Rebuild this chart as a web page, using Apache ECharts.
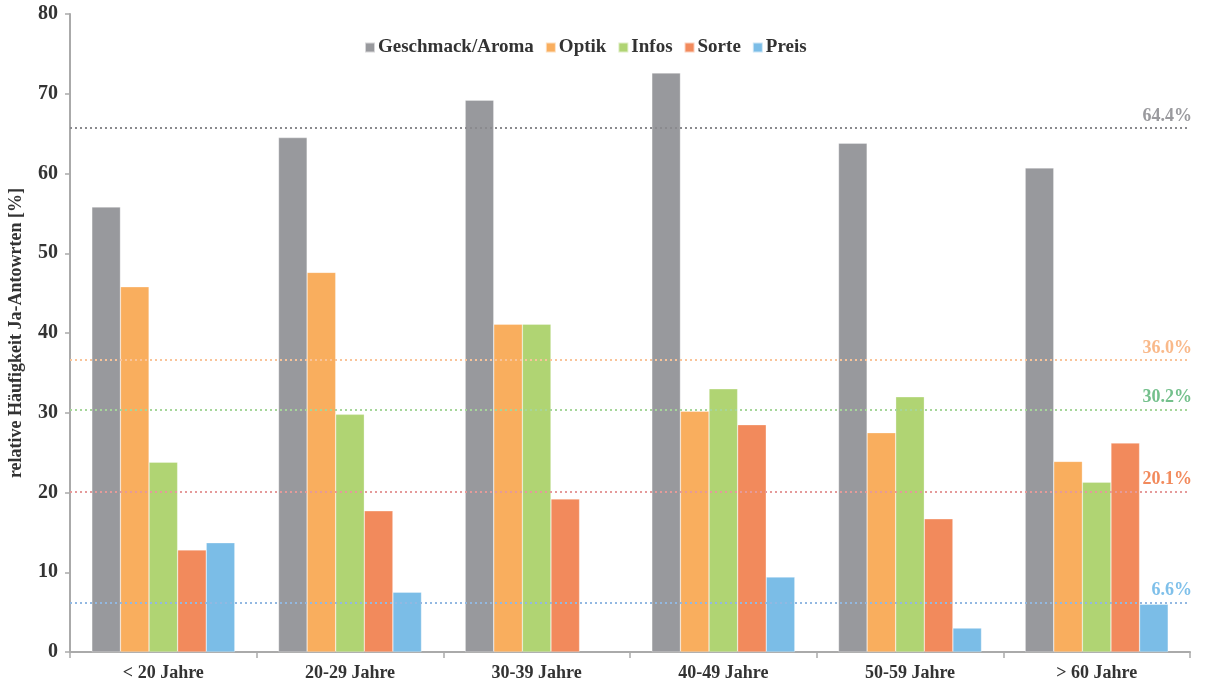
<!DOCTYPE html>
<html>
<head>
<meta charset="utf-8">
<script src="https://cdn.jsdelivr.net/npm/echarts@6/dist/echarts.min.js"></script>
<style>
html,body{margin:0;padding:0;background:#fff;}
#chart{width:1206px;height:684px;}
</style>
</head>
<body>
<div id="chart"></div>
<script>
var categories = ['< 20 Jahre', '20-29 Jahre', '30-39 Jahre', '40-49 Jahre', '50-59 Jahre', '> 60 Jahre'];
var seriesNames = ['Geschmack/Aroma', 'Optik', 'Infos', 'Sorte', 'Preis'];
var geschmack = [55.8, 64.5, 69.2, 72.6, 63.8, 60.7];
var optik = [45.8, 47.6, 41.1, 30.2, 27.5, 23.9];
var infos = [23.8, 29.8, 41.1, 33.0, 32.0, 21.3];
var sorte = [12.8, 17.7, 19.2, 28.5, 16.7, 26.2];
var preis = [13.7, 7.5, null, 9.4, 3.0, 6.0];
var lineLevels = [65.7, 36.6, 30.4, 20.1, 6.2];
var lineLabels = ['64.4%', '36.0%', '30.2%', '20.1%', '6.6%'];
var yTicks = [0, 10, 20, 30, 40, 50, 60, 70, 80];

var barColors = ['#98999d', '#f9ae5e', '#b0d473', '#f28a5c', '#7bbde7'];
var lineColors = ['#8a8a8e', '#f9c49a', '#a6d69a', '#e59a9a', '#92b8e2'];
var labelColors = ['#9a9a9e', '#f9b98a', '#74c08c', '#f28a5c', '#7fc0ea'];
var FONT = '"Liberation Serif", "DejaVu Serif", serif';

var dataSets = [geschmack, optik, infos, sorte, preis];
var series = seriesNames.map(function (name, i) {
  return {
    name: name,
    type: 'bar',
    data: dataSets[i],
    barGap: '0%',
    barCategoryGap: '23.4%',
    itemStyle: { color: barColors[i], borderColor: 'rgba(255,255,255,0.6)', borderWidth: 0.5 },
    markLine: {
      silent: true,
      symbol: 'none',
      data: [{ yAxis: lineLevels[i] }],
      lineStyle: { color: lineColors[i], type: [2, 3], width: 2 },
      label: {
        position: 'insideEndTop',
        formatter: lineLabels[i],
        color: labelColors[i],
        fontFamily: FONT,
        fontWeight: 'bold',
        fontSize: 18,
        distance: [-2, 3]
      }
    }
  };
});

var chart = echarts.init(document.getElementById('chart'));
chart.setOption({
  animation: false,
  grid: { left: 70, right: 16, top: 14, bottom: 32, containLabel: false, outerBoundsMode: 'none' },
  legend: {
    data: seriesNames,
    top: 33,
    left: 359,
    itemWidth: 10,
    itemHeight: 10,
    itemGap: 11,
    icon: 'rect',
    textStyle: { fontFamily: FONT, fontWeight: 'bold', fontSize: 19, color: '#333', padding: [0, 0, 0, -2] }
  },
  xAxis: {
    type: 'category',
    data: categories,
    axisLine: { lineStyle: { color: '#aaaaaa', width: 2 } },
    axisTick: { show: true, length: 6, lineStyle: { color: '#aaaaaa', width: 1.5 } },
    axisLabel: { fontFamily: FONT, fontWeight: 'bold', fontSize: 18, color: '#333', margin: 12 }
  },
  yAxis: {
    type: 'value',
    min: yTicks[0],
    max: yTicks[yTicks.length - 1],
    interval: 10,
    name: 'relative Häufigkeit Ja-Antowrten [%]',
    nameLocation: 'middle',
    nameRotate: 90,
    nameGap: 45,
    nameTextStyle: { fontFamily: FONT, fontWeight: 'bold', fontSize: 18, color: '#333' },
    splitLine: { show: false },
    axisLine: { show: true, lineStyle: { color: '#aaaaaa', width: 2 } },
    axisTick: { show: true, length: 5, lineStyle: { color: '#aaaaaa', width: 1.5 } },
    axisLabel: { fontFamily: FONT, fontWeight: 'bold', fontSize: 20, color: '#333', margin: 12 }
  },
  series: series
});
</script>
</body>
</html>
